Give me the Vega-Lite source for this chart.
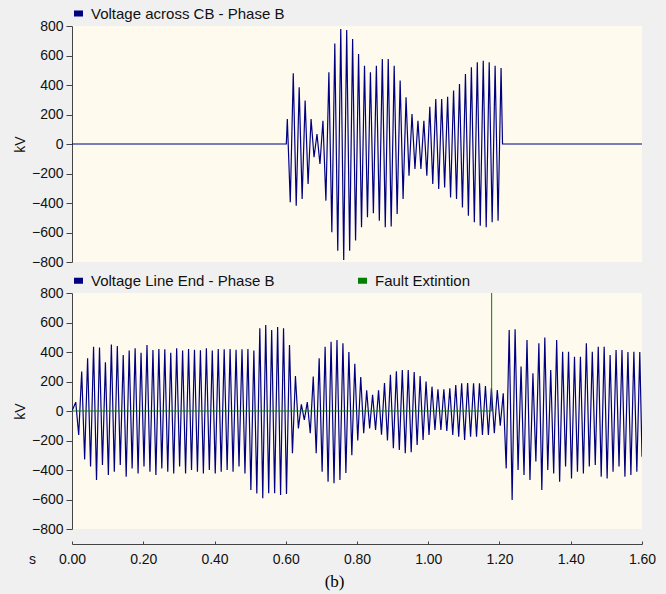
{
"$schema": "https://vega.github.io/schema/vega-lite/v6.json",
"background": "#F0F0F0",
"autosize": {"type": "pad"},
"padding": {"left": 13, "top": 6, "right": 23, "bottom": 4},
"bounds": "flush",
"spacing": 31,
"config": {
 "view": {"fill": "#FFFAEE", "stroke": null},
 "axis": {"labelFont": "Liberation Sans", "labelFontSize": 14, "labelColor": "#111", "titleFont": "Liberation Sans", "titleFontSize": 14, "titleFontWeight": "normal", "titleColor": "#111", "domainColor": "#444", "tickColor": "#444", "grid": false, "tickSize": 6, "labelPadding": 3, "labelOverlap": false},
 "legend": {"orient": "none", "legendX": -1, "legendY": -20, "title": null, "direction": "horizontal", "labelFont": "Liberation Sans", "labelFontSize": 15, "labelColor": "#111", "labelLimit": 0, "labelOffset": 5, "symbolType": "M-1,-0.67H1V0.67H-1Z", "symbolSize": 81, "symbolStrokeWidth": 0, "columnPadding": 80},
 "title": {"font": "Liberation Serif", "fontSize": 17, "fontWeight": "normal", "color": "#000"}
},
"title": {"text": "(b)", "orient": "bottom", "offset": 8, "anchor": "middle"},
"datasets": {
"cb": [
{"t":0,"v":0},{"t":0.6016,"v":0},
{"t":0.6044,"v":170},{"t":0.6127,"v":-395},
{"t":0.6211,"v":480},{"t":0.6294,"v":-418},
{"t":0.6377,"v":384},{"t":0.6460,"v":-373},
{"t":0.6544,"v":294},{"t":0.6627,"v":-271},
{"t":0.6711,"v":170},{"t":0.6794,"v":-90},
{"t":0.6877,"v":68},{"t":0.6960,"v":-136},
{"t":0.7044,"v":158},{"t":0.7127,"v":-384},
{"t":0.7211,"v":486},{"t":0.7294,"v":-599},
{"t":0.7377,"v":682},{"t":0.7460,"v":-723},
{"t":0.7544,"v":780},{"t":0.7627,"v":-786},
{"t":0.7711,"v":773},{"t":0.7794,"v":-723},
{"t":0.7877,"v":712},{"t":0.7960,"v":-655},
{"t":0.8044,"v":610},{"t":0.8127,"v":-565},
{"t":0.8211,"v":531},{"t":0.8294,"v":-497},
{"t":0.8377,"v":486},{"t":0.8460,"v":-470},
{"t":0.8544,"v":531},{"t":0.8627,"v":-520},
{"t":0.8711,"v":576},{"t":0.8794,"v":-565},
{"t":0.8877,"v":576},{"t":0.8960,"v":-560},
{"t":0.9044,"v":531},{"t":0.9127,"v":-475},
{"t":0.9211,"v":430},{"t":0.9294,"v":-373},
{"t":0.9377,"v":316},{"t":0.9460,"v":-215},
{"t":0.9544,"v":203},{"t":0.9627,"v":-170},
{"t":0.9711,"v":158},{"t":0.9794,"v":-170},
{"t":0.9877,"v":158},{"t":0.9960,"v":-215},
{"t":1.0044,"v":253},{"t":1.0127,"v":-271},
{"t":1.0211,"v":305},{"t":1.0294,"v":-305},
{"t":1.0377,"v":305},{"t":1.0460,"v":-294},
{"t":1.0544,"v":320},{"t":1.0627,"v":-362},
{"t":1.0711,"v":362},{"t":1.0794,"v":-373},
{"t":1.0877,"v":407},{"t":1.0960,"v":-430},
{"t":1.1044,"v":475},{"t":1.1127,"v":-486},
{"t":1.1211,"v":520},{"t":1.1294,"v":-531},
{"t":1.1377,"v":554},{"t":1.1460,"v":-554},
{"t":1.1544,"v":565},{"t":1.1627,"v":-565},
{"t":1.1711,"v":554},{"t":1.1794,"v":-531},
{"t":1.1877,"v":531},{"t":1.1960,"v":-520},
{"t":1.2044,"v":515},{"t":1.2085,"v":0},
{"t":1.6,"v":0}
],
"le": [
{"t":0,"v":0},
{"t":0.0105,"v":60},{"t":0.0188,"v":-163},
{"t":0.0272,"v":267},{"t":0.0355,"v":-328},
{"t":0.0438,"v":357},{"t":0.0521,"v":-377},
{"t":0.0605,"v":436},{"t":0.0688,"v":-468},
{"t":0.0772,"v":430},{"t":0.0855,"v":-366},
{"t":0.0938,"v":330},{"t":0.1021,"v":-434},
{"t":0.1105,"v":450},{"t":0.1188,"v":-411},
{"t":0.1272,"v":440},{"t":0.1355,"v":-366},
{"t":0.1438,"v":380},{"t":0.1521,"v":-445},
{"t":0.1605,"v":410},{"t":0.1688,"v":-389},
{"t":0.1772,"v":425},{"t":0.1855,"v":-423},
{"t":0.1938,"v":395},{"t":0.2021,"v":-377},
{"t":0.2105,"v":447},{"t":0.2188,"v":-411},
{"t":0.2272,"v":413},{"t":0.2355,"v":-434},
{"t":0.2438,"v":420},{"t":0.2521,"v":-389},
{"t":0.2605,"v":418},{"t":0.2688,"v":-411},
{"t":0.2772,"v":395},{"t":0.2855,"v":-423},
{"t":0.2938,"v":425},{"t":0.3021,"v":-377},
{"t":0.3105,"v":410},{"t":0.3188,"v":-423},
{"t":0.3272,"v":420},{"t":0.3355,"v":-400},
{"t":0.3438,"v":415},{"t":0.3521,"v":-411},
{"t":0.3605,"v":412},{"t":0.3688,"v":-423},
{"t":0.3772,"v":425},{"t":0.3855,"v":-400},
{"t":0.3938,"v":410},{"t":0.4021,"v":-423},
{"t":0.4105,"v":420},{"t":0.4188,"v":-411},
{"t":0.4272,"v":418},{"t":0.4355,"v":-400},
{"t":0.4438,"v":420},{"t":0.4521,"v":-411},
{"t":0.4605,"v":415},{"t":0.4688,"v":-377},
{"t":0.4772,"v":418},{"t":0.4855,"v":-423},
{"t":0.4938,"v":420},{"t":0.5021,"v":-536},
{"t":0.5105,"v":410},{"t":0.5188,"v":-560},
{"t":0.5272,"v":561},{"t":0.5355,"v":-592},
{"t":0.5438,"v":583},{"t":0.5521,"v":-558},
{"t":0.5605,"v":549},{"t":0.5688,"v":-558},
{"t":0.5772,"v":570},{"t":0.5855,"v":-570},
{"t":0.5938,"v":561},{"t":0.6021,"v":-563},
{"t":0.6105,"v":447},{"t":0.6188,"v":-287},
{"t":0.6272,"v":237},{"t":0.6355,"v":-118},
{"t":0.6438,"v":45},{"t":0.6521,"v":-60},
{"t":0.6605,"v":60},{"t":0.6688,"v":-151},
{"t":0.6772,"v":233},{"t":0.6855,"v":-287},
{"t":0.6938,"v":357},{"t":0.7021,"v":-411},
{"t":0.7105,"v":436},{"t":0.7188,"v":-479},
{"t":0.7272,"v":470},{"t":0.7355,"v":-490},
{"t":0.7438,"v":481},{"t":0.7521,"v":-468},
{"t":0.7605,"v":460},{"t":0.7688,"v":-420},
{"t":0.7772,"v":400},{"t":0.7855,"v":-300},
{"t":0.7938,"v":320},{"t":0.8021,"v":-200},
{"t":0.8105,"v":230},{"t":0.8188,"v":-151},
{"t":0.8272,"v":140},{"t":0.8355,"v":-118},
{"t":0.8438,"v":110},{"t":0.8521,"v":-129},
{"t":0.8605,"v":140},{"t":0.8688,"v":-160},
{"t":0.8772,"v":190},{"t":0.8855,"v":-200},
{"t":0.8938,"v":245},{"t":0.9021,"v":-253},
{"t":0.9105,"v":270},{"t":0.9188,"v":-264},
{"t":0.9272,"v":278},{"t":0.9355,"v":-287},
{"t":0.9438,"v":278},{"t":0.9521,"v":-280},
{"t":0.9605,"v":265},{"t":0.9688,"v":-230},
{"t":0.9772,"v":237},{"t":0.9855,"v":-197},
{"t":0.9938,"v":199},{"t":1.0021,"v":-163},
{"t":1.0105,"v":165},{"t":1.0188,"v":-129},
{"t":1.0272,"v":147},{"t":1.0355,"v":-129},
{"t":1.0438,"v":147},{"t":1.0521,"v":-135},
{"t":1.0605,"v":154},{"t":1.0688,"v":-163},
{"t":1.0772,"v":176},{"t":1.0855,"v":-174},
{"t":1.0938,"v":188},{"t":1.1021,"v":-197},
{"t":1.1105,"v":190},{"t":1.1188,"v":-174},
{"t":1.1272,"v":188},{"t":1.1355,"v":-174},
{"t":1.1438,"v":188},{"t":1.1521,"v":-163},
{"t":1.1605,"v":170},{"t":1.1688,"v":-163},
{"t":1.1772,"v":154},{"t":1.1855,"v":-151},
{"t":1.1938,"v":142},{"t":1.2021,"v":-100},
{"t":1.2105,"v":120},{"t":1.2188,"v":-389},
{"t":1.2272,"v":549},{"t":1.2355,"v":-603},
{"t":1.2438,"v":554},{"t":1.2521,"v":-400},
{"t":1.2605,"v":301},{"t":1.2688,"v":-434},
{"t":1.2772,"v":481},{"t":1.2855,"v":-468},
{"t":1.2938,"v":255},{"t":1.3021,"v":-343},
{"t":1.3105,"v":459},{"t":1.3188,"v":-536},
{"t":1.3272,"v":498},{"t":1.3355,"v":-400},
{"t":1.3438,"v":278},{"t":1.3521,"v":-423},
{"t":1.3605,"v":481},{"t":1.3688,"v":-479},
{"t":1.3772,"v":402},{"t":1.3855,"v":-377},
{"t":1.3938,"v":402},{"t":1.4021,"v":-457},
{"t":1.4105,"v":368},{"t":1.4188,"v":-411},
{"t":1.4272,"v":368},{"t":1.4355,"v":-423},
{"t":1.4438,"v":459},{"t":1.4521,"v":-377},
{"t":1.4605,"v":402},{"t":1.4688,"v":-366},
{"t":1.4772,"v":436},{"t":1.4855,"v":-445},
{"t":1.4938,"v":436},{"t":1.5021,"v":-457},
{"t":1.5105,"v":380},{"t":1.5188,"v":-411},
{"t":1.5272,"v":414},{"t":1.5355,"v":-377},
{"t":1.5438,"v":414},{"t":1.5521,"v":-445},
{"t":1.5605,"v":400},{"t":1.5688,"v":-434},
{"t":1.5772,"v":402},{"t":1.5855,"v":-411},
{"t":1.5938,"v":400},{"t":1.6,"v":-310}
],
"fe": [
{"t":0,"v":0},{"t":1.178,"v":0},{"t":1.178,"v":1000},{"t":1.6,"v":1000}
]
},
"vconcat": [
 {
  "width": 570, "height": 236,
  "data": {"name": "cb"},
  "mark": {"type": "line", "strokeWidth": 1.2, "clip": true},
  "encoding": {
   "x": {"field": "t", "type": "quantitative", "scale": {"domain": [0, 1.6], "nice": false, "zero": false}, "axis": null},
   "y": {"field": "v", "type": "quantitative", "scale": {"domain": [-800, 800], "nice": false}, "axis": {"values": [-800,-600,-400,-200,0,200,400,600,800], "title": "kV", "titlePadding": 4, "labelOverlap": false}},
   "color": {"datum": "Voltage across CB - Phase B", "scale": {"domain": ["Voltage across CB - Phase B"], "range": ["#000080"]}, "legend": {"encode": {"symbols": {"update": {"fill": {"value": "#000080"}}}}}},
   "order": {"value": null}
  }
 },
 {
  "width": 570, "height": 236,
  "encoding": {
   "x": {"field": "t", "type": "quantitative", "scale": {"domain": [0, 1.6], "nice": false, "zero": false}, "axis": {"values": [0,0.2,0.4,0.6,0.8,1,1.2,1.4,1.6], "format": ".2f", "offset": 15, "tickSize": -3, "labelPadding": 11, "labelFlush": false, "labelOverlap": false, "title": "s", "titleAngle": 0, "titleX": -40, "titleY": 15, "titleAlign": "center", "titleBaseline": "middle"}},
   "y": {"field": "v", "type": "quantitative", "scale": {"domain": [-800, 800], "nice": false}, "axis": {"values": [-800,-600,-400,-200,0,200,400,600,800], "title": "kV", "titlePadding": 4, "labelOverlap": false}},
   "order": {"value": null}
  },
  "layer": [
   {
    "data": {"name": "le"},
    "mark": {"type": "line", "strokeWidth": 1.2, "clip": true},
    "encoding": {
     "color": {"datum": "Voltage Line End - Phase B", "scale": {"domain": ["Voltage Line End - Phase B", "Fault Extintion"], "range": ["#000080", "#008000"]}, "legend": {"encode": {"symbols": {"update": {"fill": {"signal": "datum.value === 'Fault Extintion' ? '#008000' : '#000080'"}}}}}}
    }
   },
   {
    "data": {"name": "fe"},
    "mark": {"type": "line", "strokeWidth": 1, "clip": true},
    "encoding": {
     "color": {"datum": "Fault Extintion"}
    }
   }
  ]
 }
],
"resolve": {"scale": {"color": "independent"}, "legend": {"color": "independent"}}
}
